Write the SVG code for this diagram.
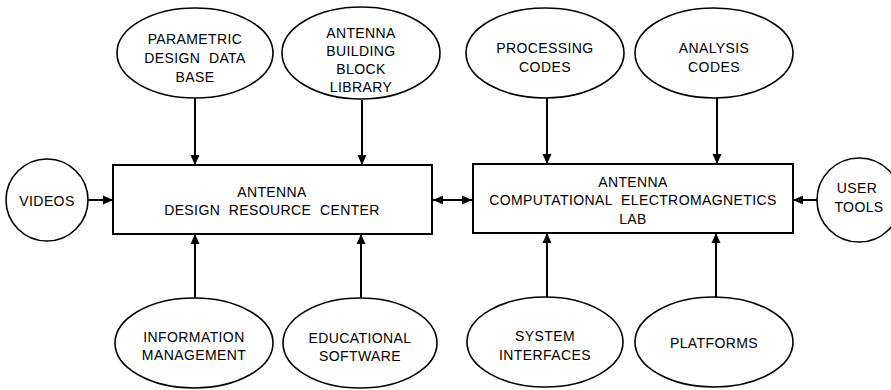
<svg xmlns="http://www.w3.org/2000/svg" width="891" height="390" viewBox="0 0 891 390">
<defs>
<style>
.n{fill:#fff;stroke:#000;stroke-width:1.6}
.b{fill:#fff;stroke:#000;stroke-width:2}
.t{font-family:"Liberation Sans",Arial,sans-serif;font-size:14px;fill:#000;text-anchor:middle;letter-spacing:0.4px}
.c{fill:none;stroke:#000;stroke-width:2}
</style>
<marker id="ah" viewBox="0 0 10 10" refX="10" refY="5" markerWidth="10" markerHeight="10" markerUnits="userSpaceOnUse" orient="auto-start-reverse">
<path d="M0,0.5 L10,5 L0,9.5 Z" fill="#000"/>
</marker>
</defs>
<rect width="891" height="390" fill="#fff"/>
<g id="connectors">
<line class="c" x1="195" y1="98" x2="195" y2="165" marker-end="url(#ah)"/>
<line class="c" x1="362" y1="100" x2="362" y2="165" marker-end="url(#ah)"/>
<line class="c" x1="195" y1="298" x2="195" y2="234" marker-end="url(#ah)"/>
<line class="c" x1="361" y1="298" x2="361" y2="234" marker-end="url(#ah)"/>
<line class="c" x1="547" y1="98" x2="547" y2="164" marker-end="url(#ah)"/>
<line class="c" x1="717" y1="98" x2="717" y2="164" marker-end="url(#ah)"/>
<line class="c" x1="547" y1="297" x2="547" y2="233" marker-end="url(#ah)"/>
<line class="c" x1="716" y1="297" x2="716" y2="233" marker-end="url(#ah)"/>
<line class="c" x1="88" y1="200" x2="113" y2="200" marker-end="url(#ah)"/>
<line class="c" x1="817" y1="200" x2="793" y2="200" marker-end="url(#ah)"/>
<line class="c" x1="433" y1="200" x2="472" y2="200" marker-start="url(#ah)" marker-end="url(#ah)"/>
</g>
<g id="design-center">
<rect class="b" x="113" y="165" width="319" height="69"/>
<text class="t" x="272" y="197">ANTENNA</text>
<text class="t" x="272" y="215" xml:space="preserve">DESIGN  RESOURCE  CENTER</text>
</g>
<g id="cem-lab">
<rect class="b" x="473" y="164" width="320" height="69"/>
<text class="t" x="633" y="187">ANTENNA</text>
<text class="t" x="633" y="205" xml:space="preserve">COMPUTATIONAL  ELECTROMAGNETICS</text>
<text class="t" x="633" y="224">LAB</text>
</g>
<g id="parametric">
<ellipse class="n" cx="195" cy="53" rx="78" ry="45"/>
<text class="t" x="195" y="44">PARAMETRIC</text>
<text class="t" x="195" y="63" xml:space="preserve">DESIGN  DATA</text>
<text class="t" x="195" y="82">BASE</text>
</g>
<g id="building-block">
<ellipse class="n" cx="361" cy="53" rx="79" ry="46"/>
<text class="t" x="361" y="38">ANTENNA</text>
<text class="t" x="361" y="56">BUILDING</text>
<text class="t" x="361" y="74">BLOCK</text>
<text class="t" x="361" y="92">LIBRARY</text>
</g>
<g id="processing">
<ellipse class="n" cx="545" cy="53" rx="79" ry="45"/>
<text class="t" x="545" y="53">PROCESSING</text>
<text class="t" x="545" y="72">CODES</text>
</g>
<g id="analysis">
<ellipse class="n" cx="714" cy="53" rx="79" ry="45"/>
<text class="t" x="714" y="53">ANALYSIS</text>
<text class="t" x="714" y="72">CODES</text>
</g>
<g id="videos">
<circle class="n" cx="47" cy="200" r="41"/>
<text class="t" x="47" y="206">VIDEOS</text>
</g>
<g id="user-tools">
<circle class="n" cx="859" cy="200" r="42"/>
<text class="t" x="857" y="193">USER</text>
<text class="t" x="859" y="212">TOOLS</text>
</g>
<g id="information">
<ellipse class="n" cx="194" cy="343" rx="79" ry="45"/>
<text class="t" x="194" y="342">INFORMATION</text>
<text class="t" x="194" y="360">MANAGEMENT</text>
</g>
<g id="educational">
<ellipse class="n" cx="360" cy="343" rx="77" ry="45"/>
<text class="t" x="360" y="343">EDUCATIONAL</text>
<text class="t" x="360" y="361">SOFTWARE</text>
</g>
<g id="system-interfaces">
<ellipse class="n" cx="545" cy="342" rx="78" ry="45"/>
<text class="t" x="545" y="341">SYSTEM</text>
<text class="t" x="545" y="360">INTERFACES</text>
</g>
<g id="platforms">
<ellipse class="n" cx="714" cy="342" rx="79" ry="45"/>
<text class="t" x="714" y="348">PLATFORMS</text>
</g>
</svg>
